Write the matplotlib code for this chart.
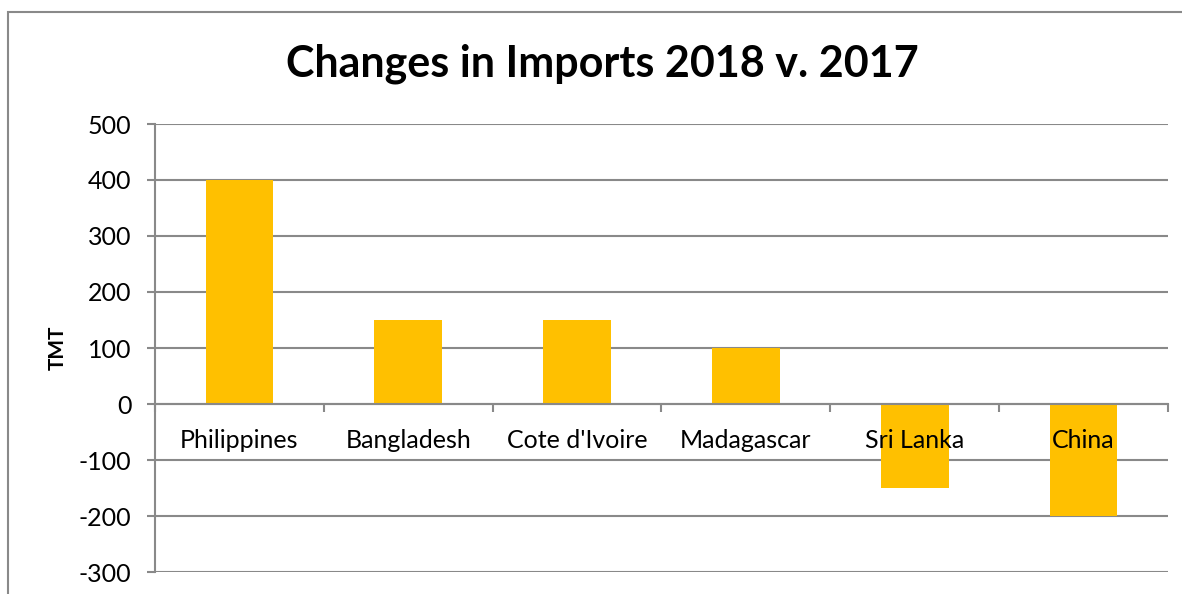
import matplotlib.pyplot as plt
from matplotlib.patches import Rectangle
import numpy as np

# data
countries = ["Philippines", "Bangladesh", "Cote d'Ivoire", "Madagascar", "Sri Lanka", "China"]
changes = [400, 150, 150, 100, -150, -200]
yticks = [-300, -200, -100, 0, 100, 200, 300, 400, 500]

plt.rcParams["font.family"] = ["Lato", "DejaVu Sans"]
plt.rcParams["axes.unicode_minus"] = False
gray = "#898989"

fig = plt.figure(figsize=(11.82, 5.94), dpi=100)
ax = fig.add_axes([155 / 1182, 1 - 572 / 594, (1168 - 155) / 1182, (572 - 124) / 594])

# chart frame (runs off the right and bottom)
fig.patches.append(Rectangle((8 / 1182, -0.1), 1.2, 1 - 12 / 594 + 0.1,
                             transform=fig.transFigure, fill=False,
                             edgecolor=gray, linewidth=1.5))

x = np.arange(len(countries))
ax.bar(x, changes, width=0.4, color="#FFC000", zorder=2)

ax.set_xlim(-0.5, len(countries) - 0.5)
ax.set_ylim(-300, 500)
ax.set_yticks(yticks)
ax.yaxis.grid(True, color=gray, linewidth=1.5, zorder=0)
ax.set_axisbelow(True)

for s in ["top", "right"]:
    ax.spines[s].set_visible(False)
ax.spines["left"].set_color(gray)
ax.spines["left"].set_linewidth(1.5)
ax.spines["bottom"].set_position(("data", 0))
ax.spines["bottom"].set_color(gray)
ax.spines["bottom"].set_linewidth(1.5)

# category boundaries as ticks on the zero line, names drawn on top of bars
ax.set_xticks(np.arange(len(countries) + 1) - 0.5)
ax.set_xticklabels([])
ax.tick_params(axis="x", length=6, width=1.5, color=gray, direction="out")
for xi, name in zip(x, countries):
    ax.annotate(name, (xi, 0), xytext=(0, -26), textcoords="offset points",
                ha="center", va="center", fontsize=18, zorder=5)

ax.tick_params(axis="y", length=6, width=1.5, color=gray, labelsize=18, pad=11)

ax.set_ylabel("TMT", fontsize=15, fontweight="bold", labelpad=8)
fig.text(602 / 1182, 1 - 64 / 594, "Changes in Imports 2018 v. 2017",
         ha="center", va="center", fontsize=31, fontweight="bold")

fig.savefig("out.png", dpi=100)
